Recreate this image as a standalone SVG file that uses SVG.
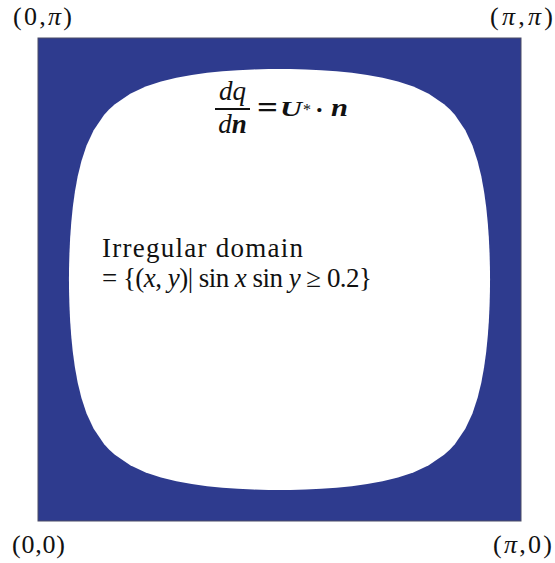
<svg xmlns="http://www.w3.org/2000/svg" width="555" height="563" viewBox="0 0 555 563">
<style>
text{fill:#111111}
.it{font-style:italic}
.bi{font-style:italic;font-weight:bold}
</style>
<rect width="555" height="563" fill="#ffffff"/>
<g id="domain">
<rect x="38" y="38" width="483" height="483" fill="#2E3B8E" stroke="#4a4d66" stroke-width="1"/>
<path fill="#ffffff" d="M68.96,279.5 L69.04,290.38 L69.43,305.76 L70.15,321.13 L71.26,336.5 L72.8,351.88 L74.9,367.25 L77.7,382.63 L81.45,398 L86.54,413.38 L93.66,428.75 L104.17,444.13 L109.28,449.72 L114.87,454.83 L130.25,465.34 L145.62,472.46 L161,477.55 L176.37,481.3 L191.75,484.1 L207.12,486.2 L222.5,487.74 L237.87,488.85 L253.24,489.57 L268.62,489.96 L279.5,490.04 L290.38,489.96 L305.76,489.57 L321.13,488.85 L336.5,487.74 L351.88,486.2 L367.25,484.1 L382.63,481.3 L398,477.55 L413.38,472.46 L428.75,465.34 L444.13,454.83 L449.72,449.72 L454.83,444.13 L465.34,428.75 L472.46,413.38 L477.55,398 L481.3,382.63 L484.1,367.25 L486.2,351.88 L487.74,336.5 L488.85,321.13 L489.57,305.76 L489.96,290.38 L490.04,279.5 L489.96,268.62 L489.57,253.24 L488.85,237.87 L487.74,222.5 L486.2,207.12 L484.1,191.75 L481.3,176.37 L477.55,161 L472.46,145.62 L465.34,130.25 L454.83,114.87 L449.72,109.28 L444.13,104.17 L428.75,93.66 L413.38,86.54 L398,81.45 L382.63,77.7 L367.25,74.9 L351.88,72.8 L336.5,71.26 L321.13,70.15 L305.76,69.43 L290.38,69.04 L279.5,68.96 L268.62,69.04 L253.24,69.43 L237.87,70.15 L222.5,71.26 L207.12,72.8 L191.75,74.9 L176.37,77.7 L161,81.45 L145.62,86.54 L130.25,93.66 L114.87,104.17 L109.28,109.28 L104.17,114.87 L93.66,130.25 L86.54,145.62 L81.45,161 L77.7,176.37 L74.9,191.75 L72.8,207.12 L71.26,222.5 L70.15,237.87 L69.43,253.24 L69.04,268.62 Z"/>
</g>
<g id="corner-labels" font-family="Liberation Serif, serif" font-size="26">
<text x="13" y="25" textLength="59">(0,<tspan class="it">π</tspan>)</text>
<text x="490" y="25" textLength="63">(<tspan class="it">π</tspan>,<tspan class="it">π</tspan>)</text>
<text x="12" y="553" textLength="53">(0,0)</text>
<text x="493" y="553" textLength="59">(<tspan class="it">π</tspan>,0)</text>
</g>
<g id="equation" font-family="Liberation Serif, serif" font-size="27">
<text class="it" x="232.5" y="100" text-anchor="middle">dq</text>
<line x1="215" y1="109" x2="250" y2="109" stroke="#111111" stroke-width="2"/>
<text x="232.5" y="133" text-anchor="middle"><tspan class="it">d</tspan><tspan class="bi">n</tspan></text>
<text x="257" y="118" font-size="32" font-weight="bold" textLength="21" lengthAdjust="spacingAndGlyphs">=</text>
<text class="bi" x="280" y="116" font-size="21" textLength="22" lengthAdjust="spacingAndGlyphs">U</text>
<text x="303" y="115" font-size="16">*</text>
<text x="315" y="118" font-size="26" font-weight="bold">·</text>
<text class="bi" x="331" y="116" font-size="26" textLength="17" lengthAdjust="spacingAndGlyphs">n</text>
</g>
<g id="domain-label" font-family="Liberation Serif, serif" font-size="27">
<text x="102" y="257" textLength="201">Irregular domain</text>
<text x="102" y="287" textLength="270">= {(<tspan class="it">x</tspan>, <tspan class="it">y</tspan>)| sin <tspan class="it">x</tspan> sin <tspan class="it">y</tspan> ≥ 0.2}</text>
</g>
</svg>
